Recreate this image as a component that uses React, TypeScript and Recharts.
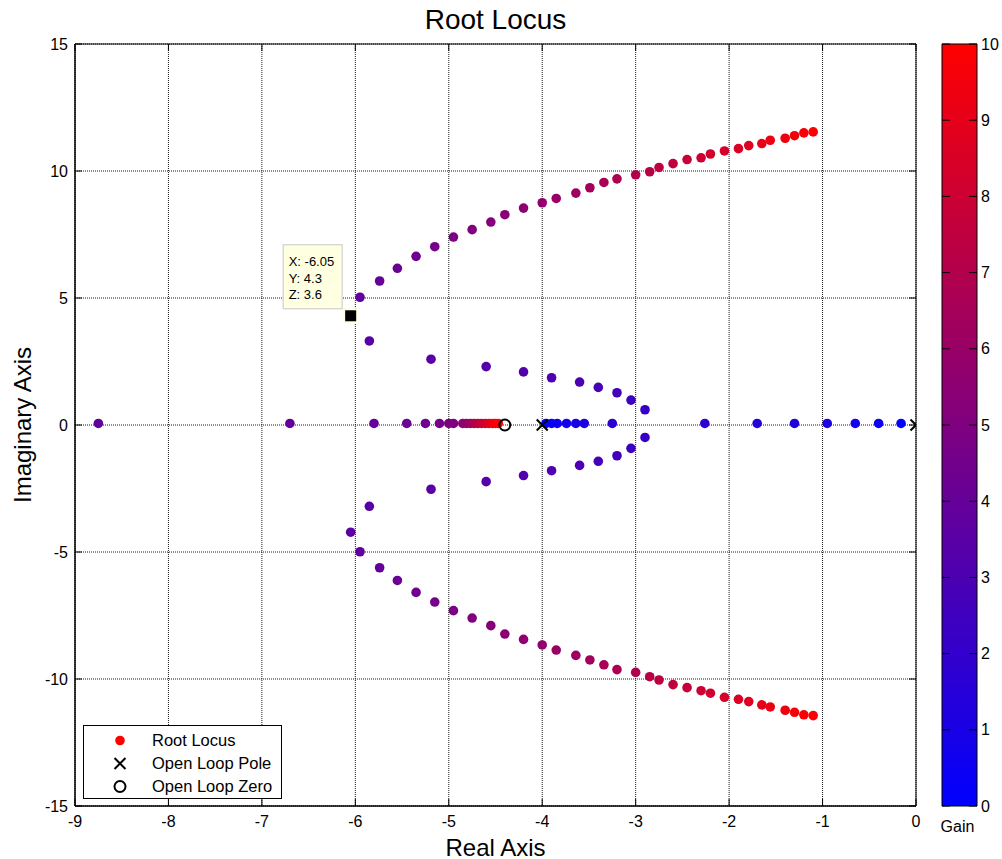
import React from 'react';
import {
  ScatterChart,
  Scatter,
  XAxis,
  YAxis,
  CartesianGrid,
  ReferenceArea,
  Legend,
  BarChart,
  Bar,
} from 'recharts';

// [real, imag, gain]
const outerUpper: [number, number, number][] = [
  [-5.95, 5.03, 3.8], [-5.74, 5.67, 4.0], [-5.55, 6.17, 4.2], [-5.35, 6.64, 4.4],
  [-5.15, 7.02, 4.6], [-4.95, 7.4, 4.8], [-4.75, 7.69, 5.0], [-4.55, 7.99, 5.2],
  [-4.4, 8.28, 5.4], [-4.2, 8.54, 5.6], [-4.0, 8.75, 5.8], [-3.85, 8.92, 6.0],
  [-3.64, 9.13, 6.2], [-3.49, 9.34, 6.4], [-3.34, 9.55, 6.6], [-3.2, 9.69, 6.8],
  [-3.0, 9.85, 7.0], [-2.85, 9.97, 7.2], [-2.75, 10.14, 7.4], [-2.6, 10.29, 7.6],
  [-2.45, 10.45, 7.8], [-2.3, 10.52, 8.0], [-2.2, 10.67, 8.2], [-2.05, 10.79, 8.4],
  [-1.9, 10.88, 8.6], [-1.79, 11.0, 8.8], [-1.65, 11.08, 9.0], [-1.56, 11.21, 9.2],
  [-1.4, 11.29, 9.4], [-1.3, 11.39, 9.6], [-1.2, 11.5, 9.8], [-1.1, 11.54, 10.0],
];

const outerLower: [number, number, number][] = [
  [-5.95, -4.99, 3.8], [-5.74, -5.62, 4.0], [-5.55, -6.12, 4.2], [-5.35, -6.59, 4.4],
  [-5.15, -6.97, 4.6], [-4.95, -7.31, 4.8], [-4.75, -7.6, 5.0], [-4.55, -7.9, 5.2],
  [-4.4, -8.23, 5.4], [-4.2, -8.44, 5.6], [-4.0, -8.66, 5.8], [-3.85, -8.86, 6.0],
  [-3.64, -9.07, 6.2], [-3.49, -9.25, 6.4], [-3.34, -9.44, 6.6], [-3.2, -9.63, 6.8],
  [-3.0, -9.74, 7.0], [-2.85, -9.91, 7.2], [-2.75, -10.04, 7.4], [-2.6, -10.22, 7.6],
  [-2.45, -10.34, 7.8], [-2.3, -10.46, 8.0], [-2.2, -10.56, 8.2], [-2.05, -10.72, 8.4],
  [-1.9, -10.8, 8.6], [-1.79, -10.89, 8.8], [-1.65, -11.02, 9.0], [-1.56, -11.1, 9.2],
  [-1.4, -11.23, 9.4], [-1.3, -11.31, 9.6], [-1.2, -11.41, 9.8], [-1.1, -11.44, 10.0],
];

const innerUpper: [number, number, number][] = [
  [-2.9, 0.6, 2.2], [-3.05, 0.98, 2.4], [-3.2, 1.27, 2.6], [-3.4, 1.48, 2.8],
  [-3.6, 1.69, 3.0], [-3.9, 1.86, 3.1], [-4.2, 2.09, 3.2], [-4.6, 2.3, 3.3],
  [-5.19, 2.59, 3.4], [-5.85, 3.31, 3.5], [-6.05, 4.3, 3.6],
];

const innerLower: [number, number, number][] = [
  [-2.9, -0.49, 2.2], [-3.05, -0.92, 2.4], [-3.2, -1.21, 2.6], [-3.4, -1.43, 2.8],
  [-3.6, -1.59, 3.0], [-3.9, -1.8, 3.1], [-4.2, -1.99, 3.2], [-4.6, -2.23, 3.3],
  [-5.19, -2.53, 3.4], [-5.85, -3.2, 3.5], [-6.05, -4.22, 3.6],
];

const realRight: [number, number, number][] = [
  [-0.16, 0.06, 0.2], [-0.4, 0.06, 0.5], [-0.65, 0.06, 0.8], [-0.95, 0.06, 1.1],
  [-1.3, 0.06, 1.3], [-1.7, 0.06, 1.5], [-2.26, 0.06, 1.8], [-3.25, 0.06, 1.7],
  [-3.55, 0.06, 1.2], [-3.64, 0.06, 1.0], [-3.74, 0.06, 0.8], [-3.84, 0.06, 0.5],
  [-3.9, 0.06, 0.3], [-3.96, 0.06, 0.1],
];

const realLeft: [number, number, number][] = [
  [-8.75, 0.06, 3.8], [-6.7, 0.06, 3.9], [-5.8, 0.06, 4.0], [-5.45, 0.06, 4.2],
  [-5.25, 0.06, 4.4], [-5.1, 0.06, 4.6], [-5.0, 0.06, 4.8], [-4.95, 0.06, 5.0],
  [-4.85, 0.06, 5.4], [-4.81, 0.06, 5.8], [-4.77, 0.06, 6.3], [-4.73, 0.06, 6.8],
  [-4.69, 0.06, 7.3], [-4.65, 0.06, 7.8], [-4.61, 0.06, 8.3], [-4.57, 0.06, 8.8],
  [-4.53, 0.06, 9.2], [-4.5, 0.06, 9.6], [-4.47, 0.06, 10.0],
];

const poles = [{ re: 0, im: 0 }, { re: -4, im: 0 }];
const zeros = [{ re: -4.4, im: 0 }];
const dataTip = [{ re: -6.05, im: 4.3, k: 3.6 }];

const xTicks = [-9, -8, -7, -6, -5, -4, -3, -2, -1, 0];
const yTicks = [-15, -10, -5, 0, 5, 10, 15];
const gainTicks = [0, 1, 2, 3, 4, 5, 6, 7, 8, 9, 10];
const gainBar = [{ name: 'Gain', v: 10 }];
const legendOrder = ['Root Locus', 'Open Loop Pole', 'Open Loop Zero'];

const FONT = '"Liberation Sans", Arial, Helvetica, sans-serif';
const W = 1002;
const H = 859;
const PLOT = { left: 75, top: 44, right: 916, bottom: 806 };
const TICK = 7;
const BAR_W = 35;

const toPts = (rows: [number, number, number][]) => rows.map(([re, im, k]) => ({ re, im, k }));
const locus = [
  ...toPts(outerUpper),
  ...toPts(outerLower),
  ...toPts(innerUpper),
  ...toPts(innerLower),
  ...toPts(realRight),
  ...toPts(realLeft),
];

const gainColor = (k: number) => {
  const t = Math.max(0, Math.min(1, k / 10));
  return `rgb(${Math.round(255 * t)},0,${Math.round(255 * (1 - t))})`;
};

const Dot = (props: any) => (
  <circle cx={props.cx} cy={props.cy} r={4.8} fill={gainColor(props.payload.k)} />
);

const Cross = ({ cx, cy }: any) => (
  <g stroke="#000" strokeWidth={2}>
    <line x1={cx - 5.5} y1={cy - 5.5} x2={cx + 5.5} y2={cy + 5.5} />
    <line x1={cx - 5.5} y1={cy + 5.5} x2={cx + 5.5} y2={cy - 5.5} />
  </g>
);

const Ring = ({ cx, cy }: any) => (
  <circle cx={cx} cy={cy} r={5.5} fill="none" stroke="#000" strokeWidth={2} />
);

const TipMarker = (props: any) => {
  const { cx, cy, payload } = props;
  return (
    <g>
      <rect x={cx - 67.5} y={cy - 71} width={59} height={64} fill="#ffffe1" stroke="#c8c8c8" />
      <g fontFamily={FONT} fontSize={13} fill="#000">
        <text x={cx - 62} y={cy - 50}>{`X: ${payload.re}`}</text>
        <text x={cx - 62} y={cy - 33}>{`Y: ${payload.im}`}</text>
        <text x={cx - 62} y={cy - 16.5}>{`Z: ${payload.k}`}</text>
      </g>
      <rect x={cx - 6.5} y={cy - 6.5} width={13} height={13} fill="#000" stroke="#ffffe1" strokeWidth={2} />
    </g>
  );
};

const XTick = ({ x, y, payload }: any) => (
  <g>
    <line x1={x} y1={y} x2={x} y2={y - TICK} stroke="#000" />
    <line x1={x} y1={PLOT.top} x2={x} y2={PLOT.top + TICK} stroke="#000" />
    <text x={x} y={y + 21} textAnchor="middle" fontFamily={FONT} fontSize={16} fill="#000">
      {payload.value}
    </text>
  </g>
);

const YTick = ({ x, y, payload }: any) => (
  <g>
    <line x1={x} y1={y} x2={x + TICK} y2={y} stroke="#000" />
    <line x1={PLOT.right} y1={y} x2={PLOT.right - TICK} y2={y} stroke="#000" />
    <text x={x - 7} y={y + 5.5} textAnchor="end" fontFamily={FONT} fontSize={16} fill="#000">
      {payload.value}
    </text>
  </g>
);

const GainTick = ({ x, y, payload }: any) => (
  <g>
    <line x1={x} y1={y} x2={x - 8} y2={y} stroke="#000" />
    <line x1={x - BAR_W} y1={y} x2={x - BAR_W + 8} y2={y} stroke="#000" />
    <text x={x + 4} y={y + 5.5} fontFamily={FONT} fontSize={16} fill="#000">
      {payload.value}
    </text>
  </g>
);

const GainLabel = ({ x, y, payload }: any) => (
  <text x={x - 2} y={y + 26} textAnchor="middle" fontFamily={FONT} fontSize={16} fill="#000">
    {payload.value}
  </text>
);

const legendMarker = (name: string) => {
  if (name === 'Open Loop Pole') return <Cross cx={36} cy={11.5} />;
  if (name === 'Open Loop Zero') return <Ring cx={36} cy={11.5} />;
  return <circle cx={36} cy={11.5} r={4.8} fill="#ff0000" />;
};

const LegendBox = ({ payload }: any) => {
  const items = (payload || [])
    .filter((p: any) => legendOrder.includes(p.value))
    .sort((a: any, b: any) => legendOrder.indexOf(a.value) - legendOrder.indexOf(b.value));
  return (
    <div
      style={{
        width: 199,
        height: 74,
        boxSizing: 'border-box',
        border: '1px solid #000',
        background: '#fff',
        paddingTop: 3,
        fontFamily: FONT,
        fontSize: 16.5,
        color: '#000',
      }}
    >
      {items.map((p: any) => (
        <div key={p.value} style={{ display: 'flex', alignItems: 'center', height: 23 }}>
          <svg width={68} height={23} style={{ flex: 'none' }}>
            {legendMarker(p.value)}
          </svg>
          <span style={{ whiteSpace: 'nowrap' }}>{p.value}</span>
        </div>
      ))}
    </div>
  );
};

export default function App() {
  return (
    <div style={{ position: 'absolute', left: 0, top: 0, width: W, height: H, background: '#fff', fontFamily: FONT }}>
      <div
        style={{
          position: 'absolute', left: 0, top: 6, width: 991, textAlign: 'center',
          fontSize: 28, lineHeight: '28px',
        }}
      >
        Root Locus
      </div>

      <ScatterChart
        width={W}
        height={H}
        margin={{ top: PLOT.top, right: W - PLOT.right, bottom: H - PLOT.bottom - 30, left: PLOT.left - 40 }}
      >
        <CartesianGrid stroke="#1a1a1a" strokeDasharray="1 1" />
        <XAxis
          type="number"
          dataKey="re"
          domain={[-9, 0]}
          ticks={xTicks}
          allowDataOverflow
          height={30}
          tickSize={0}
          tickMargin={0}
          tickLine={false}
          axisLine={{ stroke: '#000' }}
          tick={<XTick />}
          interval={0}
        />
        <YAxis
          type="number"
          dataKey="im"
          domain={[-15, 15]}
          ticks={yTicks}
          allowDataOverflow
          width={40}
          tickSize={0}
          tickMargin={0}
          tickLine={false}
          axisLine={{ stroke: '#000' }}
          tick={<YTick />}
          interval={0}
        />
        <ReferenceArea x1={-9} x2={0} y1={-15} y2={15} fill="none" stroke="#000" strokeOpacity={1} fillOpacity={0} />
        <Scatter name="Root Locus" data={locus} shape={Dot} isAnimationActive={false} />
        <Scatter name="Open Loop Pole" data={poles} shape={Cross} isAnimationActive={false} />
        <Scatter name="Open Loop Zero" data={zeros} shape={Ring} isAnimationActive={false} />
        <Scatter name="tip" legendType="none" data={dataTip} shape={TipMarker} isAnimationActive={false} />
        <Legend
          layout="vertical"
          align="center"
          verticalAlign="middle"
          content={<LegendBox />}
          wrapperStyle={{ left: 83, top: 725, width: 199, height: 74 }}
        />
      </ScatterChart>

      <div style={{ position: 'absolute', left: 930, top: 0, width: 72, height: H }}>
        <BarChart
          width={72}
          height={H}
          data={gainBar}
          margin={{ top: PLOT.top, right: 0, bottom: H - PLOT.bottom - 30, left: 12 }}
          barCategoryGap={0}
        >
          <defs>
            <linearGradient id="gainGrad" x1="0" y1="0" x2="0" y2="1">
              <stop offset="0" stopColor="#ff0000" />
              <stop offset="1" stopColor="#0000ff" />
            </linearGradient>
          </defs>
          <XAxis
            dataKey="name"
            height={30}
            tickSize={0}
            tickMargin={0}
            tickLine={false}
            axisLine={false}
            tick={<GainLabel />}
          />
          <YAxis
            yAxisId="r"
            orientation="right"
            type="number"
            domain={[0, 10]}
            ticks={gainTicks}
            width={25}
            tickSize={0}
            tickMargin={0}
            tickLine={false}
            axisLine={false}
            tick={<GainTick />}
            interval={0}
          />
          <Bar yAxisId="r" dataKey="v" fill="url(#gainGrad)" stroke="#000" isAnimationActive={false} />
        </BarChart>
      </div>

      <div
        style={{
          position: 'absolute', left: 0, top: 835.7, width: 991, textAlign: 'center',
          fontSize: 24, lineHeight: '24px',
        }}
      >
        Real Axis
      </div>
      <div
        style={{
          position: 'absolute', left: 23 - 150, top: 425 - 12, width: 300, height: 24,
          textAlign: 'center', fontSize: 24, lineHeight: '24px', transform: 'rotate(-90deg)',
        }}
      >
        Imaginary Axis
      </div>
    </div>
  );
}
